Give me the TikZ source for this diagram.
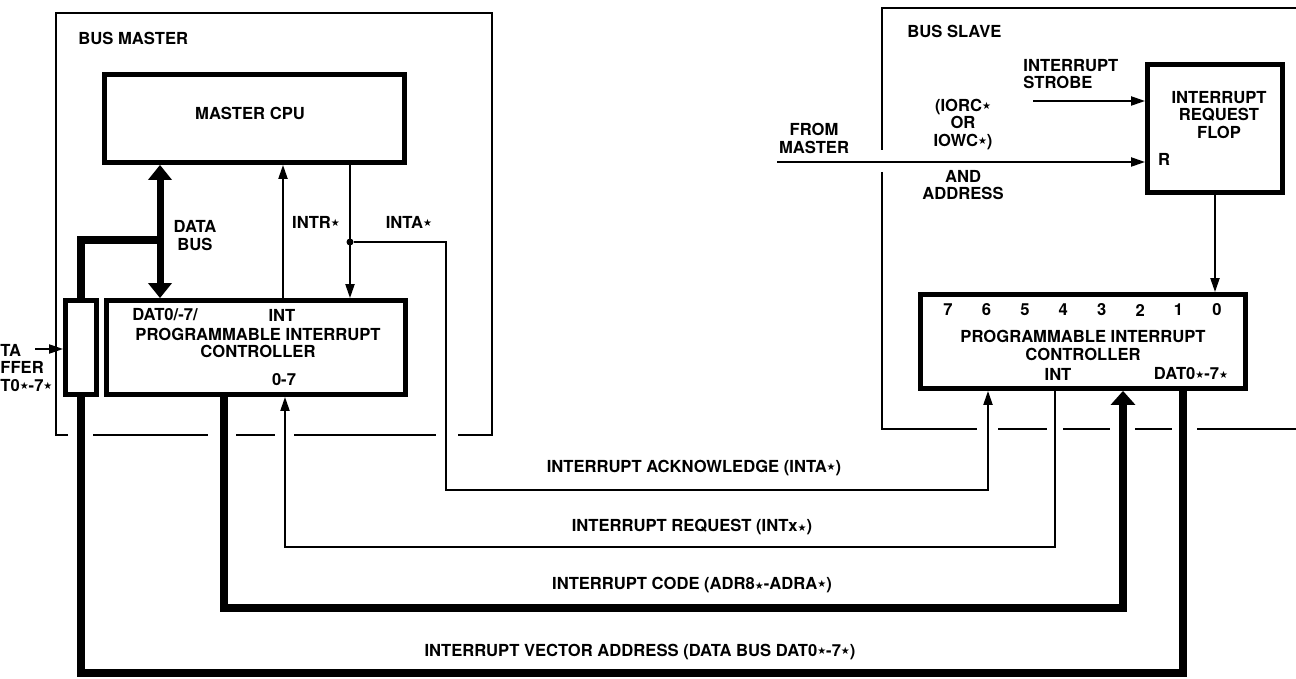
\documentclass[tikz,border=0pt]{standalone}
\usepackage{fontspec}
\setmainfont{TeX Gyre Heros}
\newfontfamily\symfont{DejaVu Sans}
\usetikzlibrary{arrows.meta}
\newcommand{\strk}{\raisebox{0.9pt}{\symfont\fontsize{5}{5}\selectfont ★}}
\newcommand{\lstrk}{\raisebox{-0.2pt}{\symfont\fontsize{5}{5}\selectfont ★}}

\begin{document}
\begin{tikzpicture}
   [x=0.5pt,y=-0.5pt,
    every node/.style={font=\bfseries\fontsize{8.3}{8.8}\selectfont,inner sep=0pt,align=center},
    block/.style={draw,rectangle,line width=2.4pt},
    frame/.style={line width=0.9pt},
    sig/.style={line width=1pt,-{Triangle[length=7pt,width=4.5pt]}},
    bus/.style={line width=4pt},
    busarrow/.style={line width=4pt,-{Triangle[length=7pt,width=12pt]}},
    dbus/.style={line width=3.5pt,{Triangle[length=7.5pt,width=11.5pt]}-{Triangle[length=7.5pt,width=11.5pt]}},
    junction/.style={circle,fill,minimum size=3.5pt}]
  \useasboundingbox (0,0) rectangle (1296,679);

  % outer frames
  \draw[frame] (68,435) -- (56,435) -- (56,13) -- (492,13) -- (492,435) -- (458,435);
  \foreach \a/\b in {93/208, 236/275, 294/436}
    \draw[frame] (\a,435) -- (\b,435);
  \draw[frame] (882,150) -- (882,8) -- (1300,8);
  \draw[frame] (882,172) -- (882,429) -- (977,429);
  \foreach \a/\b in {998/1047, 1063/1110, 1135/1172, 1197/1300}
    \draw[frame] (\a,429) -- (\b,429);
  \node[anchor=west] (mlbl) at (78,38) {BUS MASTER};
  \node[anchor=west] (slbl) at (907,31) {BUS SLAVE};

  % blocks
  \node[block,minimum width=150pt,minimum height=44pt] (cpu) at (254.5,118.5) {};
  \node[block,minimum width=149.5pt,minimum height=47pt] (mpic) at (256,347.5) {};
  \node[block,minimum width=15.5pt,minimum height=47pt] (buf) at (81,347.5) {};
  \node[block,minimum width=67.5pt,minimum height=64pt] (flop) at (1215,128.5) {};
  \node[block,minimum width=162.5pt,minimum height=47pt] (spic) at (1083,341.5) {};

  \node (cputxt) at (250,113) {MASTER CPU};
  \node (mdat) at (165,315) {DAT0/-7/};
  \node (mint) at (282,315) {INT};
  \node (mname) at (258,343) {PROGRAMMABLE INTERRUPT\\CONTROLLER};
  \node (mirq) at (284,380) {0-7};
  \node[anchor=west,align=left] (buftxt) at (0,368) {TA\\FFER\\T0\strk-7\strk};
  \node (floptxt) at (1219,115) {INTERRUPT\\REQUEST\\FLOP};
  \node (rtxt) at (1164,159) {R};
  \foreach \b [count=\i from 0] in {7,...,0}
    \node (bit\b) at ({948+38.43*\i},310) {\b};
  \node (sname) at (1083,345.5) {PROGRAMMABLE INTERRUPT\\CONTROLLER};
  \node (sint) at (1058,374) {INT};
  \node (sdat) at (1191,374) {DAT0\strk-7\strk};

  % master side
  \coordinate (dbj) at (160,240);
  \coordinate (intx) at (283,230);
  \node[junction] (tap) at (350,242) {};
  \draw[dbus] (cpu.south -| dbj) -- (mpic.north -| dbj);
  \draw[bus] (buf.north) |- (dbj);
  \draw[sig] (mpic.north -| intx) -- (cpu.south -| intx);
  \draw[sig] (cpu.south -| tap) -- (mpic.north -| tap);
  \coordinate (bin) at (35,349);
  \draw[sig] (bin) -- (bin -| buf.west);
  \node (dbtxt) at (195,235.5) {DATA\\BUS};
  \node (intrtxt) at (316,222) {INTR\strk};
  \node (intatxt) at (409,222) {INTA\strk};

  % slave side
  \coordinate (stb) at (1033,101);
  \coordinate (fm) at (777,162);
  \draw[sig] (stb) -- (stb -| flop.west);
  \draw[sig] (fm) -- (fm -| flop.west);
  \draw[sig] (flop.south) -- (spic.north -| flop.south);
  \node[anchor=west,align=left] (stbtxt) at (1023,74) {INTERRUPT\\STROBE};
  \node (iotxt) at (963,124.5) {(IORC\strk\\OR\\IOWC\strk)};
  \node (fmtxt) at (814,138.5) {FROM\\MASTER};
  \node (adtxt) at (963,185) {AND\\ADDRESS};

  % lines between the boards
  \coordinate (ack1) at (446,490);
  \coordinate (ack2) at (988,490);
  \coordinate (req1) at (1055,547);
  \coordinate (req2) at (285,547);
  \coordinate (cod1) at (224,608);
  \coordinate (cod2) at (1123,608);
  \coordinate (vec2) at (1183,673);
  \draw[sig] (tap) -| (ack1) -- (ack2) -- (spic.south -| ack2);
  \draw[sig] (spic.south -| req1) -- (req1) -- (req2) -- (mpic.south -| req2);
  \draw[busarrow] (mpic.south -| cod1) -- (cod1) -- (cod2) -- (spic.south -| cod2);
  \draw[bus] (buf.south) |- (vec2) -- (spic.south -| vec2);
  \node (acktxt) at (694,468) {INTERRUPT ACKNOWLEDGE (INTA\strk)};
  \node (reqtxt) at (692,527) {INTERRUPT REQUEST (INTx\lstrk)};
  \node (codtxt) at (692,585) {INTERRUPT CODE (ADR8\lstrk-ADRA\strk)};
  \node (vectxt) at (640,652) {INTERRUPT VECTOR ADDRESS (DATA BUS DAT0\strk-7\strk)};
\end{tikzpicture}
\end{document}
